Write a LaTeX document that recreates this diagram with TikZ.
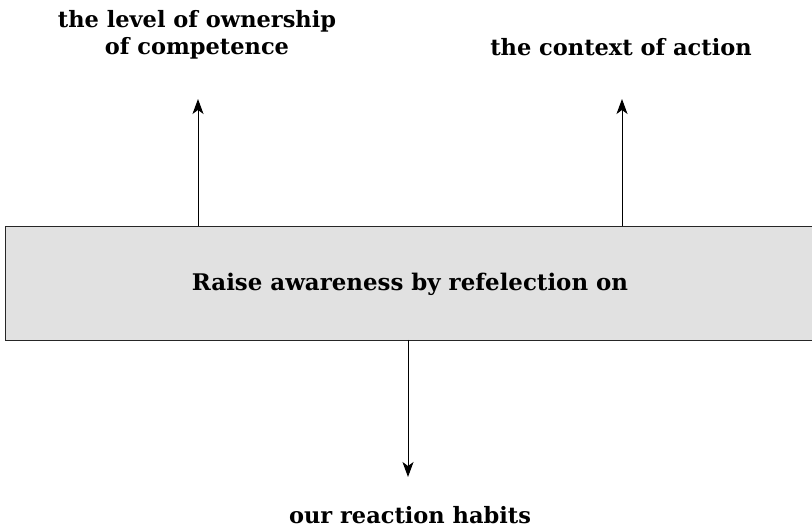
\documentclass[tikz,border=0pt]{standalone}
\usepackage{fontspec}
\usetikzlibrary{arrows.meta}
\newfontfamily\labfont{DejaVu Serif}
\definecolor{boxgray}{HTML}{E1E1E1}
\begin{document}
\begin{tikzpicture}[x=1pt,y=-1pt,
  lab/.style={font=\labfont\bfseries\fontsize{22.5}{27}\selectfont, align=center, inner sep=0pt, anchor=base},
  mainbox/.style={draw=black!85, fill=boxgray, line width=1.4pt, inner sep=0pt},
  arr/.style={-{Stealth[length=15pt,width=11pt,inset=4pt]}, line width=1pt}]
\useasboundingbox (0,0) rectangle (812,529);
\node[mainbox, minimum width=810pt, minimum height=114pt, anchor=north west] (box) at (5,226) {};
\node[font=\labfont\bfseries\fontsize{22.9}{27}\selectfont, inner sep=0pt, anchor=base] (boxtxt) at (410,291) {Raise awareness by refelection on};
\node[lab] (own1) at (197,28) {the level of ownership};
\node[lab] (own2) at (197,55) {of competence};
\node[lab] (ctx) at (621,56) {the context of action};
\node[lab] (hab) at (410,523) {our reaction habits};
\coordinate (a1s) at (198,226);
\coordinate (a1e) at (198,99);
\coordinate (a2s) at (622,226);
\coordinate (a2e) at (622,99);
\coordinate (a3s) at (408,340);
\coordinate (a3e) at (408,477);
\draw[arr] (a1s) -- (a1e);
\draw[arr] (a2s) -- (a2e);
\draw[arr] (a3s) -- (a3e);
\end{tikzpicture}
\end{document}
